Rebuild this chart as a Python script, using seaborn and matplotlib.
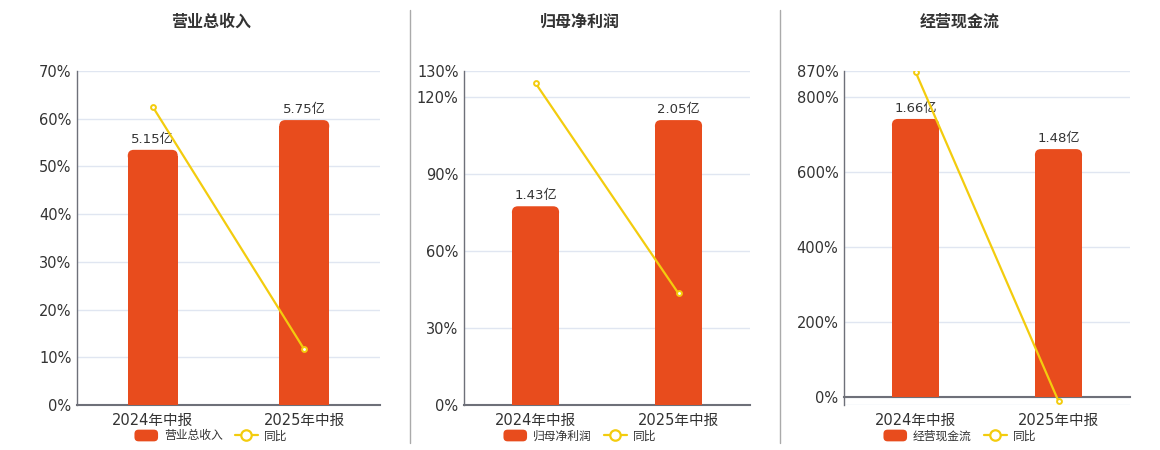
import numpy as np
import matplotlib
matplotlib.use("Agg")
import matplotlib.pyplot as plt
from matplotlib.patches import FancyBboxPatch, Patch
from matplotlib.lines import Line2D
from matplotlib.legend_handler import HandlerPatch
import seaborn as sns

# data
periods = ["2024年中报", "2025年中报"]
titles = ["营业总收入", "归母净利润", "经营现金流"]
bar_values = [[5.15, 5.75], [1.43, 2.05], [1.66, 1.48]]
bar_labels = [["5.15亿", "5.75亿"], ["1.43亿", "2.05亿"], ["1.66亿", "1.48亿"]]
yoy_values = [[62.5, 11.65], [125.3, 43.4], [868.0, -10.8]]
y_ticks = [[0, 10, 20, 30, 40, 50, 60, 70],
           [0, 30, 60, 90, 120, 130],
           [0, 200, 400, 600, 800, 870]]
y_limits = [(0, 70), (0, 130), (-21, 870)]

BAR_COLOR = "#E84C1D"
LINE_COLOR = "#F3CC0E"
GRID_COLOR = "#E0E6F1"
AXIS_COLOR = "#6E7079"
TEXT_COLOR = "#333333"

sns.set_theme(style="white")
plt.rcParams["font.family"] = ["DejaVu Sans", "Noto Sans CJK SC"]

W, H = 1160, 450
fig = plt.figure(figsize=(W / 100, H / 100), dpi=100)

# pixel boxes: left, right, top, bottom
boxes = [(77, 380, 71, 405), (464, 750, 71, 405), (844, 1130, 71, 405)]
panel_x = [211, 580, 960]


def round_tops(axb, radius_px, box):
    x0, x1 = axb.get_xlim()
    y0, y1 = axb.get_ylim()
    wpx = box[1] - box[0]
    hpx = box[3] - box[2]
    rx = radius_px * (x1 - x0) / wpx
    ry = radius_px * (y1 - y0) / hpx
    for p in list(axb.patches):
        x, y, w, h = p.get_x(), p.get_y(), p.get_width(), p.get_height()
        p.set_height(h - ry)
        top = FancyBboxPatch((x, y + h - 2 * ry), w, 2 * ry,
                             boxstyle=f"round,pad=0,rounding_size={rx}",
                             mutation_aspect=ry / rx,
                             facecolor=BAR_COLOR, edgecolor="none")
        axb.add_patch(top)


def rounded_handle(legend, orig_handle, xdescent, ydescent, width, height, fontsize):
    return FancyBboxPatch((-xdescent, -ydescent), width, height,
                          boxstyle="round,pad=0,rounding_size=3")


for i in range(3):
    l, r, t, b = boxes[i]
    rect = [l / W, (H - b) / H, (r - l) / W, (b - t) / H]
    ax = fig.add_axes(rect)
    axb = ax.twinx()
    axl = ax.twinx()

    # bars on their own hidden scale
    sns.barplot(x=periods, y=bar_values[i], ax=axb, color=BAR_COLOR,
                width=0.33, saturation=1, edgecolor="none")
    ymin, ymax = y_limits[i]
    bmax = max(bar_values[i]) / 0.853
    axb.set_ylim(ymin / ymax * bmax, bmax)
    axb.set_xlim(-0.5, 1.5)
    round_tops(axb, 6, boxes[i])
    for j, v in enumerate(bar_values[i]):
        axb.annotate(bar_labels[i][j], (j, v), xytext=(0, 3),
                     textcoords="offset points", ha="center", va="bottom",
                     fontsize=9.5, color=TEXT_COLOR)

    # yoy line
    sns.pointplot(x=periods, y=yoy_values[i], ax=axl, color=LINE_COLOR,
                  markers="o", linewidth=1.6, markersize=3.5,
                  markerfacecolor="white", markeredgecolor=LINE_COLOR,
                  markeredgewidth=1.4)
    axl.set_ylim(ymin, ymax)

    for a in (axb, axl):
        a.set_yticks([])
        a.set_ylabel("")
        a.patch.set_visible(False)
        for s in a.spines.values():
            s.set_visible(False)

    # percent axis
    ax.set_ylim(ymin, ymax)
    ax.set_xlim(-0.5, 1.5)
    ax.set_yticks(y_ticks[i])
    ax.set_yticklabels([f"{v}%" for v in y_ticks[i]])
    ax.yaxis.grid(True, color=GRID_COLOR, linewidth=1)
    ax.set_axisbelow(True)
    ax.set_xticks([0, 1])
    ax.set_xticklabels(periods)
    ax.set_xticks([-0.5, 0.5, 1.5], minor=True)
    ax.tick_params(axis="x", which="major", length=0, labelsize=10.5,
                   labelcolor=TEXT_COLOR, pad=6)
    ax.tick_params(axis="x", which="minor", length=5, width=1,
                   color=AXIS_COLOR, direction="out")
    ax.tick_params(axis="y", length=0, labelsize=10.5, labelcolor=TEXT_COLOR,
                   pad=4)
    for s in ("top", "right"):
        ax.spines[s].set_visible(False)
    ax.spines["left"].set_color(AXIS_COLOR)
    ax.spines["left"].set_linewidth(1)
    ax.spines["bottom"].set_color(AXIS_COLOR)
    ax.spines["bottom"].set_linewidth(1.5)
    if ymin < 0:
        ax.spines["bottom"].set_position(("data", 0))
        ax.axhline(ymin, color=GRID_COLOR, linewidth=1, zorder=0)
        ax.tick_params(axis="x", which="major",
                       pad=6 + (0 - ymin) / (ymax - ymin) * (b - t) * 0.72)
    ax.set_zorder(0)
    axb.set_zorder(1)
    axl.set_zorder(2)

    handles = [Patch(facecolor=BAR_COLOR, edgecolor="none"),
               Line2D([], [], color=LINE_COLOR, linewidth=1.6, marker="o",
                      markersize=7.5, markerfacecolor="white",
                      markeredgewidth=1.6)]
    fig.legend(handles, [titles[i], "同比"], loc="center",
               bbox_to_anchor=(panel_x[i] / W, 1 - 436 / H),
               bbox_transform=fig.transFigure, ncol=2, frameon=False,
               fontsize=8.5, handlelength=2.0, handleheight=1.15,
               columnspacing=1.0, handletextpad=0.5, labelcolor=TEXT_COLOR,
               borderpad=0, borderaxespad=0,
               handler_map={Patch: HandlerPatch(patch_func=rounded_handle)})

    fig.text(panel_x[i] / W, 1 - 22 / H, titles[i], ha="center", va="center",
             fontsize=11.5, fontweight="bold", color=TEXT_COLOR)

# separators between panels
for xs in (410, 780):
    fig.add_artist(Line2D([xs / W, xs / W], [1 - 10 / H, 1 - 443 / H],
                          color="#AAAAAA", linewidth=1))

fig.savefig("out.png", dpi=100)
